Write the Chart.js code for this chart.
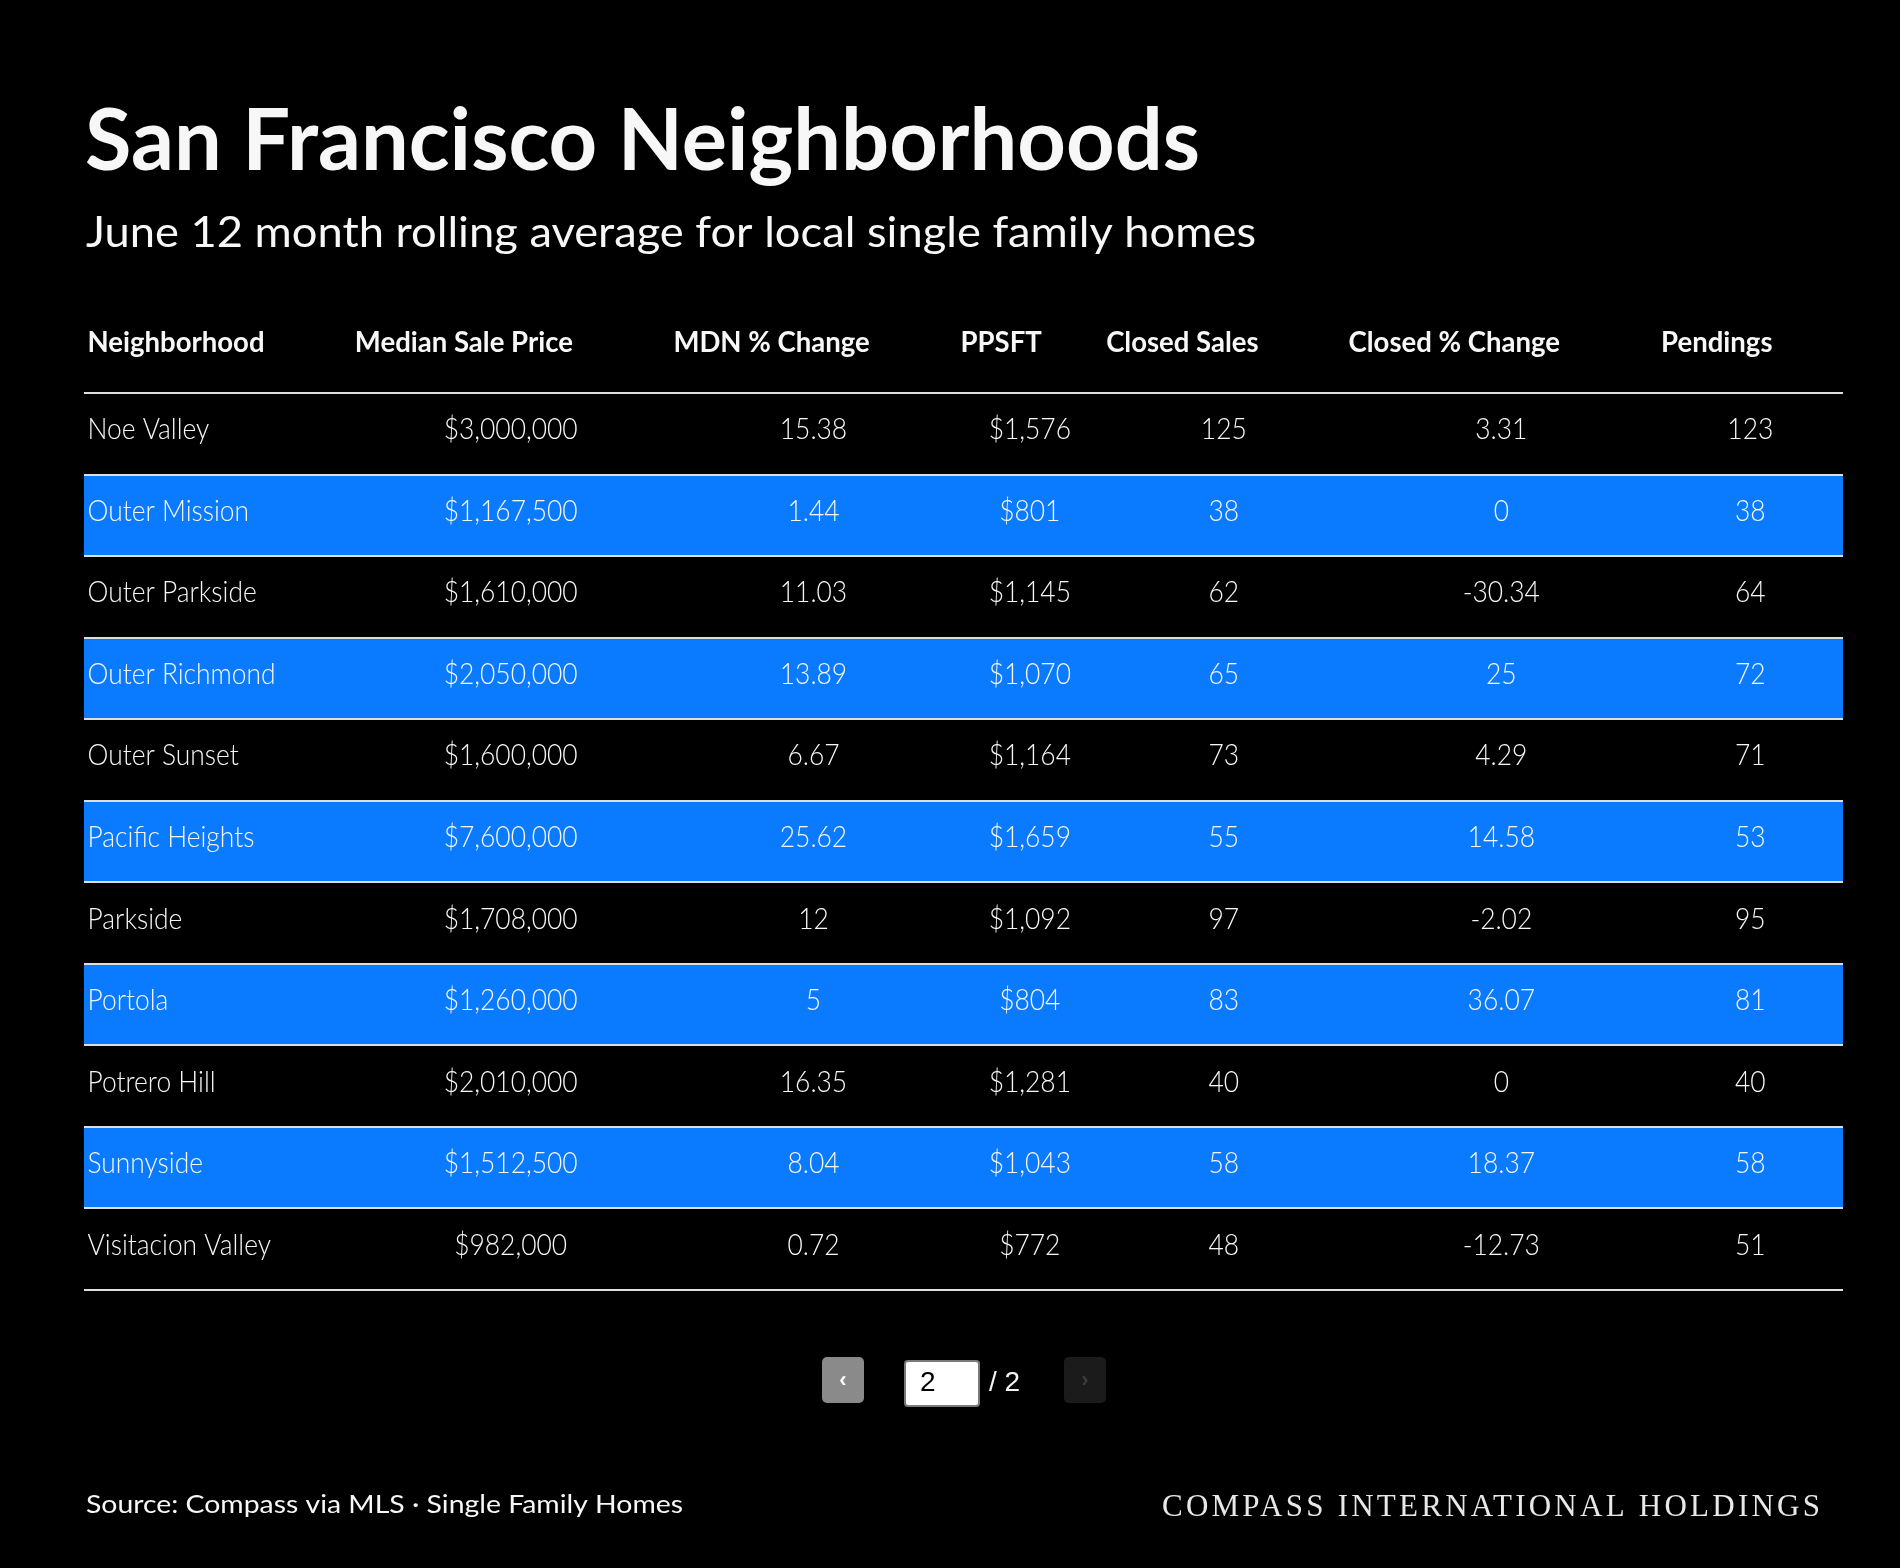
<!DOCTYPE html>
<html><head><meta charset="utf-8">
<script src="https://cdn.jsdelivr.net/npm/chart.js@4.4.1/dist/chart.umd.min.js"></script>
<style>html,body{margin:0;padding:0;background:#000;overflow:hidden}canvas{display:block}</style>
</head><body>
<div style="position:relative;width:1900px;height:1568px"><canvas id="c" width="1900" height="1568" style="width:1900px;height:1568px"></canvas></div>
<script>
// ---------------- DATA ----------------
const headers = ['Neighborhood', 'Median Sale Price', 'MDN % Change', 'PPSFT', 'Closed Sales', 'Closed % Change', 'Pendings'];
const neighborhoods = ['Noe Valley', 'Outer Mission', 'Outer Parkside', 'Outer Richmond', 'Outer Sunset', 'Pacific Heights', 'Parkside', 'Portola', 'Potrero Hill', 'Sunnyside', 'Visitacion Valley'];
const medianSalePrice = [3000000, 1167500, 1610000, 2050000, 1600000, 7600000, 1708000, 1260000, 2010000, 1512500, 982000];
const mdnChange = [15.38, 1.44, 11.03, 13.89, 6.67, 25.62, 12, 5, 16.35, 8.04, 0.72];
const ppsft = [1576, 801, 1145, 1070, 1164, 1659, 1092, 804, 1281, 1043, 772];
const closedSales = [125, 38, 62, 65, 73, 55, 97, 83, 40, 58, 48];
const closedChange = [3.31, 0, -30.34, 25, 4.29, 14.58, -2.02, 36.07, 0, 18.37, -12.73];
const pendings = [123, 38, 64, 72, 71, 53, 95, 81, 40, 58, 51];
const titleText = 'San Francisco Neighborhoods';
const subtitleText = 'June 12 month rolling average for local single family homes';
const sourceText = 'Source: Compass via MLS \u00B7 Single Family Homes';
const brandText = 'COMPASS INTERNATIONAL HOLDINGS';
const currentPage = 2, totalPages = 2;

// ---------------- LAYOUT (column edges as % of table width) ----------------
const colEdges = [0, 15.2, 33.31, 49.63, 57.91, 71.69, 89.46, 100];
const BLUE = '#0a7bff';
const FONT = 'Lato';

const money = v => '$' + v.toLocaleString('en-US');
const plain = v => String(v);
const columns = [
  null,
  medianSalePrice.map(money),
  mdnChange.map(plain),
  ppsft.map(money),
  closedSales.map(plain),
  closedChange.map(plain),
  pendings.map(plain)
];

function measure(ctx, text, font, spacing) {
  ctx.save(); ctx.font = font; ctx.letterSpacing = (spacing || 0) + 'px';
  const w = ctx.measureText(text).width; ctx.restore(); return w;
}
function txt(ctx, text, x, y, o) {
  ctx.save();
  ctx.font = o.font; ctx.fillStyle = o.color || '#f7f7f7';
  ctx.textBaseline = o.baseline || 'alphabetic'; ctx.textAlign = o.align || 'left';
  ctx.letterSpacing = (o.spacing || 0) + 'px';
  ctx.translate(x, y); ctx.scale(o.sx || 1, 1); ctx.fillText(text, 0, 0);
  ctx.restore();
}
function fitSx(ctx, text, font, target) { return target / measure(ctx, text, font); }

const tablePlugin = {
  id: 'tableText',
  beforeDraw(chart) {
    const ctx = chart.ctx;
    ctx.save(); ctx.fillStyle = '#000'; ctx.fillRect(0, 0, chart.width, chart.height); ctx.restore();
  },
  afterDraw(chart) {
    const ctx = chart.ctx;
    const xs = chart.scales.x, ys = chart.scales.y;
    // Title & subtitle
    const tFont = `bold 86px ${FONT}`;
    txt(ctx, titleText, 85, 170, { font: tFont, sx: fitSx(ctx, titleText, tFont, 1115) });
    const sFont = `normal 42px ${FONT}`;
    txt(ctx, subtitleText, 86, 247, { font: sFont, sx: fitSx(ctx, subtitleText, sFont, 1170) });

    // Headers
    const hFont = `bold 29px ${FONT}`;
    const hsx = fitSx(ctx, 'Neighborhood', hFont, 177);
    headers.forEach((h, c) => {
      txt(ctx, h, xs.getPixelForValue(colEdges[c]) + 3.5, ys.top - 41, { font: hFont, sx: hsx });
    });

    // Cells
    const dFont = `300 29px ${FONT}`;
    const dsx = fitSx(ctx, '$3,000,000', dFont, 134);
    const labels = ys.getLabels();
    labels.forEach((name, i) => {
      const y = ys.getPixelForValue(i) + 5.5;
      txt(ctx, name, xs.getPixelForValue(colEdges[0]) + 3.5, y, { font: dFont, sx: dsx });
      for (let c = 1; c < columns.length; c++) {
        const cx = xs.getPixelForValue((colEdges[c] + colEdges[c + 1]) / 2);
        txt(ctx, columns[c][i], cx, y, { font: dFont, sx: dsx, align: 'center' });
      }
    });

    // Pagination
    ctx.save();
    ctx.fillStyle = '#8a8a8a'; ctx.beginPath(); ctx.roundRect(822, 1357, 42, 46, 5); ctx.fill();
    ctx.fillStyle = '#1b1b1b'; ctx.beginPath(); ctx.roundRect(1064, 1357, 42, 46, 5); ctx.fill();
    ctx.fillStyle = '#ffffff'; ctx.strokeStyle = '#7a7a7a'; ctx.lineWidth = 2;
    ctx.beginPath(); ctx.roundRect(905, 1361, 74, 45, 3); ctx.fill(); ctx.stroke();
    ctx.restore();
    txt(ctx, '\u2039', 843, 1381, { font: 'bold 22px "Liberation Sans"', align: 'center', baseline: 'middle', color: '#ffffff' });
    txt(ctx, '\u203A', 1085, 1381, { font: 'bold 22px "Liberation Sans"', align: 'center', baseline: 'middle', color: '#3c3c3c' });
    txt(ctx, String(currentPage), 920, 1391, { font: 'normal 28px "Liberation Sans"', color: '#000' });
    txt(ctx, '/ ' + totalPages, 989, 1391, { font: 'normal 28px "Liberation Sans"', color: '#f5f5f5' });

    // Footer
    const fFont = `normal 25.5px ${FONT}`;
    txt(ctx, sourceText, 86, 1513, { font: fFont, sx: fitSx(ctx, sourceText, fFont, 597) });
    const bFont = 'normal 31px "Liberation Serif"';
    const w0 = measure(ctx, brandText, bFont);
    const sp = (658 - w0) / (brandText.length - 1);
    txt(ctx, brandText, 1162, 1516, { font: bFont, spacing: sp, color: '#e8e8e8' });
  }
};

new Chart(document.getElementById('c'), {
  type: 'bar',
  data: {
    labels: neighborhoods,
    datasets: [{
      data: neighborhoods.map((_, i) => (i % 2 === 1 ? [colEdges[0], colEdges[colEdges.length - 1]] : null)),
      backgroundColor: BLUE,
      borderWidth: 0,
      barPercentage: 1,
      categoryPercentage: 1
    }]
  },
  options: {
    indexAxis: 'y',
    responsive: false,
    animation: false,
    devicePixelRatio: 1,
    layout: { padding: { left: 84, right: 57, top: 393, bottom: 278 } },
    plugins: { legend: { display: false }, tooltip: { enabled: false } },
    scales: {
      x: { type: 'linear', min: colEdges[0], max: colEdges[colEdges.length - 1], display: false },
      y: {
        type: 'category',
        display: true,
        offset: true,
        ticks: { display: false },
        border: { display: false },
        grid: { offset: true, color: '#dedede', lineWidth: 2, drawTicks: false, z: 1 },
        afterFit(s) { s.width = 0; }
      }
    }
  },
  plugins: [tablePlugin]
});
</script>
</body></html>
